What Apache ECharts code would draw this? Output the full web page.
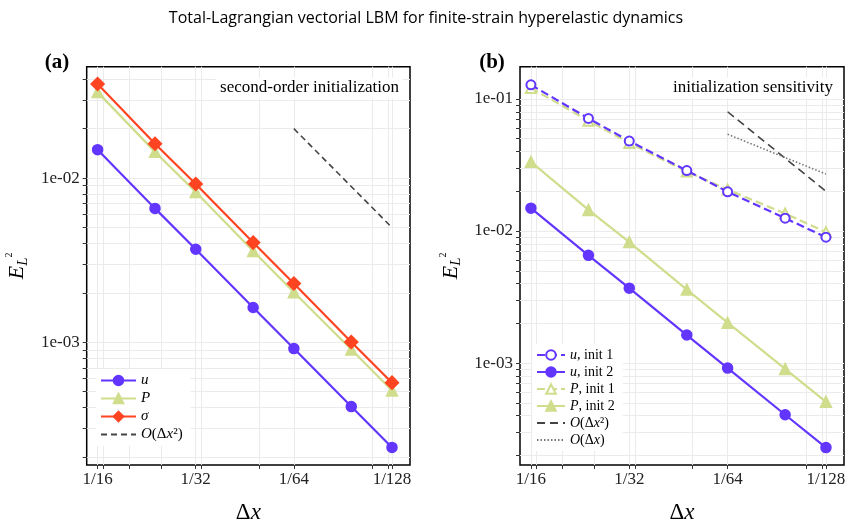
<!DOCTYPE html>
<html>
<head>
<meta charset="utf-8">
<script src="https://cdn.jsdelivr.net/npm/echarts@6/dist/echarts.min.js"></script>
<style>
  html, body { margin: 0; padding: 0; background: #fff; }
  #main { width: 852px; height: 529px; }
</style>
</head>
<body>
<div id="main"></div>
<script>
var myChart = echarts.init(document.getElementById('main'));

// grid spacing dx = 1/N, N = 16 .. 128
var dx = [1/16, 1/24, 1/32, 1/48, 1/64, 1/96, 1/128];

// (a) second-order initialization
var uErr = [0.0149, 0.00654, 0.00369, 0.00163, 0.000916, 0.000406, 0.000229];
var pErr = [0.0334, 0.01445, 0.00824, 0.0036, 0.00202, 0.000903, 0.000509];
var sigmaErr = [0.0374, 0.0162, 0.0092, 0.00405, 0.00228, 0.001005, 0.000568];

// (b) initialization sensitivity (init 2 = same as panel a)
var uInit1 = [0.128, 0.0712, 0.048, 0.0287, 0.0198, 0.0125, 0.00897];
var pInit1 = [0.121, 0.0684, 0.0464, 0.0282, 0.0206, 0.01355, 0.0098];

// reference slopes
var refDx = [1/64, 1/128];
var ref2a = [0.02, 0.005];
var ref2b = [0.08, 0.02];
var ref1b = [0.054, 0.027];

// tick values
var xMajor = [1/16, 1/32, 1/64, 1/128];
var xMinor = [0.06, 0.05, 0.04, 0.03, 0.02, 0.009, 0.008];
var yMajor = [1e-4, 1e-3, 1e-2, 1e-1];

var purple = '#6236ff';
var green = '#cfdd8c';
var red = '#ff4422';
var serif = 'Liberation Serif';

function pairs(xs, ys) {
    return xs.map(function (x, i) { return [x, ys[i]]; });
}

var yTicks = [];
[1e-4, 1e-3, 1e-2, 1e-1].forEach(function (d) {
    for (var k = 1; k <= 9; k++) yTicks.push(+(d * k).toPrecision(3));
});

function sci(v) {
    var e = Math.round(Math.log10(v));
    return '1e-' + (-e < 10 ? '0' : '') + (-e);
}

function frac(v) {
    return '1/' + Math.round(1 / v);
}

function xAxisFor(gi) {
    return {
        type: 'log',
        gridIndex: gi,
        inverse: true,
        min: 0.00688,
        max: 0.0675,
        name: 'Δ{i|x}',
        nameLocation: 'middle',
        nameGap: 36,
        nameTextStyle: {
            fontFamily: serif, fontSize: 23, color: '#000',
            rich: { i: { fontFamily: serif, fontStyle: 'italic', fontSize: 23, color: '#000' } }
        },
        axisLine: { show: false },
        axisTick: { show: true, length: 4, lineStyle: { color: '#333', width: 1 },
                    customValues: xMajor.concat(xMinor) },
        axisLabel: { customValues: xMajor, formatter: frac, margin: 6,
                     fontFamily: serif, fontSize: 17, color: '#222' },
        splitLine: { show: true, lineStyle: { color: '#ebebeb', width: 1 } },
        minorTick: { show: false },
        minorSplitLine: { show: false }
    };
}

function yAxisFor(gi, lo, hi) {
    return {
        type: 'log',
        gridIndex: gi,
        min: lo,
        max: hi,
        name: '{e|E}{s|L}{p|2}',
        nameLocation: 'middle',
        nameGap: 56,
        nameTextStyle: {
            rich: {
                e: { fontFamily: serif, fontStyle: 'italic', fontSize: 22, color: '#000', lineHeight: 26, verticalAlign: 'middle' },
                s: { fontFamily: serif, fontStyle: 'italic', fontSize: 15, color: '#000', lineHeight: 26, verticalAlign: 'bottom' },
                p: { fontFamily: serif, fontSize: 10, color: '#000', lineHeight: 26, verticalAlign: 'top' }
            }
        },
        axisLine: { show: false },
        axisTick: { show: true, length: 4, lineStyle: { color: '#333', width: 1 },
                    customValues: yTicks },
        axisLabel: { customValues: yMajor, formatter: sci, margin: 7,
                     fontFamily: serif, fontSize: 17, color: '#222' },
        splitLine: { show: true, lineStyle: { color: '#ebebeb', width: 1 } },
        minorTick: { show: false },
        minorSplitLine: { show: false }
    };
}

function markerSeries(name, gi, ys, color, symbol, size, dashed, z) {
    return {
        name: name,
        type: 'line',
        xAxisIndex: gi,
        yAxisIndex: gi,
        data: pairs(dx, ys),
        symbol: symbol,
        symbolSize: size,
        showAllSymbol: true,
        z: z,
        lineStyle: { color: color, width: 2.2, type: dashed ? [8, 4] : 'solid' },
        itemStyle: { color: color, borderColor: color, borderWidth: 1.5 },
        emphasis: { disabled: true },
        animation: false
    };
}

function refSeries(name, gi, ys, dash, color) {
    return {
        name: name,
        type: 'line',
        xAxisIndex: gi,
        yAxisIndex: gi,
        data: pairs(refDx, ys),
        symbol: 'none',
        lineStyle: { color: color, width: 1.6, type: dash },
        itemStyle: { color: color },
        emphasis: { disabled: true },
        animation: false
    };
}

var legendNames = {
    'a_u': '{i|u}',
    'a_P': '{i|P}',
    'a_s': '{i|σ}',
    'a_O2': '{i|O}(Δ{i|x}²)',
    'b_u1': '{i|u}, init 1',
    'b_u2': '{i|u}, init 2',
    'b_P1': '{i|P}, init 1',
    'b_P2': '{i|P}, init 2',
    'b_O2': '{i|O}(Δ{i|x}²)',
    'b_O1': '{i|O}(Δ{i|x})'
};

// reference-slope entries: line only, no marker
function legendItems(names, lineOnly) {
    return names.map(function (n) {
        if (lineOnly.indexOf(n) >= 0) {
            return { name: n, itemStyle: { opacity: 0 } };
        }
        return { name: n };
    });
}

function legendFor(names, left, top, fs, iw, gap) {
    return {
        orient: 'vertical',
        left: left,
        top: top,
        data: legendItems(names, ['a_O2', 'b_O2', 'b_O1']),
        itemWidth: iw,
        itemHeight: 12,
        itemGap: gap,
        padding: [4, 8, 4, 4],
        backgroundColor: '#fff',
        selectedMode: false,
        formatter: function (n) { return legendNames[n]; },
        textStyle: {
            fontFamily: serif, fontSize: fs, color: '#000',
            rich: { i: { fontFamily: serif, fontStyle: 'italic', fontSize: fs, color: '#000' } }
        }
    };
}

function textEl(text, x, y, font, align, bg) {
    return {
        type: 'text',
        x: x,
        y: y,
        z: 50,
        style: {
            text: text,
            font: font,
            fill: '#000',
            align: align,
            verticalAlign: 'middle',
            backgroundColor: bg ? '#fff' : null,
            padding: bg ? [2, 4] : 0
        }
    };
}

var option = {
    backgroundColor: '#fff',
    animation: false,
    title: {
        text: 'Total-Lagrangian vectorial LBM for finite-strain hyperelastic dynamics',
        left: 'center',
        top: 5,
        textStyle: { fontFamily: 'Open Sans', fontSize: 16, fontWeight: 'normal', color: '#000' }
    },
    grid: [
        { left: 86.7, top: 66.7, width: 323.3, height: 405, show: true,
          borderColor: '#000', borderWidth: 1.5, backgroundColor: 'transparent' },
        { left: 520, top: 66.7, width: 324, height: 405, show: true,
          borderColor: '#000', borderWidth: 1.5, backgroundColor: 'transparent' }
    ],
    xAxis: [xAxisFor(0), xAxisFor(1)],
    yAxis: [yAxisFor(0, 0.000179, 0.0477), yAxisFor(1, 0.000169, 0.1755)],
    legend: [
        legendFor(['a_u', 'a_P', 'a_s', 'a_O2'], 96, 369, 15, 35, 3),
        legendFor(['b_u1', 'b_u2', 'b_P1', 'b_P2', 'b_O2', 'b_O1'], 532, 344, 14, 28, 3)
    ],
    graphic: [
        textEl('(a)', 57, 63, 'bold 21px "Liberation Serif"', 'center', false),
        textEl('(b)', 492, 63, 'bold 21px "Liberation Serif"', 'center', false),
        textEl('second-order initialization', 403, 88, '17px "Liberation Serif"', 'right', true),
        textEl('initialization sensitivity', 837, 88, '17px "Liberation Serif"', 'right', true)
    ],
    series: [
        refSeries('a_O2', 0, ref2a, [6, 4], '#444'),
        markerSeries('a_P', 0, pErr, green, 'triangle', 11, false, 3),
        markerSeries('a_s', 0, sigmaErr, red, 'diamond', 13, false, 4),
        markerSeries('a_u', 0, uErr, purple, 'circle', 10, false, 5),

        refSeries('b_O2', 1, ref2b, [8, 5], '#444'),
        refSeries('b_O1', 1, ref1b, [1.5, 2], '#777'),
        markerSeries('b_P1', 1, pInit1, green, 'emptyTriangle', 10, true, 3),
        markerSeries('b_P2', 1, pErr, green, 'triangle', 11, false, 3),
        markerSeries('b_u1', 1, uInit1, purple, 'emptyCircle', 9, true, 4),
        markerSeries('b_u2', 1, uErr, purple, 'circle', 10, false, 5)
    ]
};

myChart.setOption(option);
</script>
</body>
</html>
